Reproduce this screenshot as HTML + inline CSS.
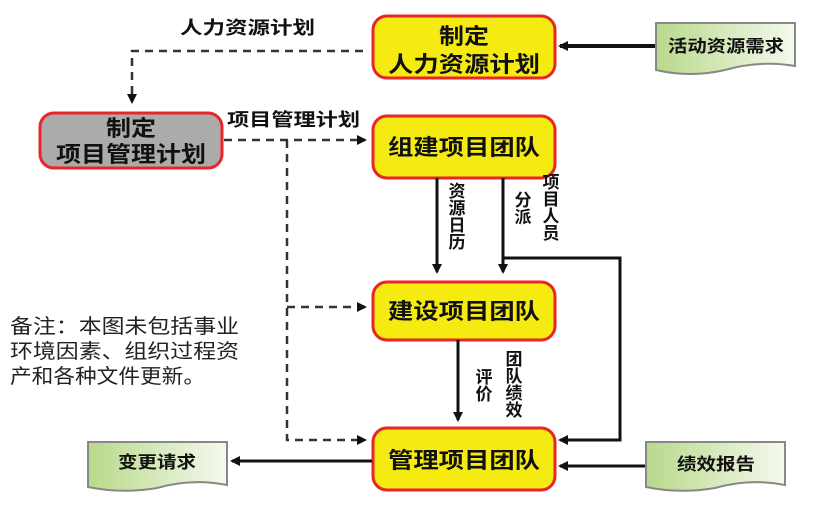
<!DOCTYPE html>
<html><head><meta charset="utf-8"><style>
body{margin:0;background:#fff;width:821px;height:500px;overflow:hidden;font-family:"Liberation Sans","Noto Sans CJK SC",sans-serif}
</style></head><body>
<svg width="821" height="500" viewBox="0 0 821 500" xmlns="http://www.w3.org/2000/svg" font-family="Liberation Sans, Noto Sans CJK SC, sans-serif">
<defs>
<marker id="a" markerWidth="10" markerHeight="10" refX="8" refY="5" orient="auto" markerUnits="userSpaceOnUse"><path d="M0,0 L10,5 L0,10 z" fill="#111"/></marker>
<linearGradient id="g" x1="0" y1="0" x2="1" y2="0"><stop offset="0" stop-color="#b9d98a"/><stop offset="1" stop-color="#f4f9ee"/></linearGradient>
</defs>
<g fill="#f5eb10" stroke="#e8262a" stroke-width="3">
<rect x="373" y="16" width="182" height="62" rx="14"/>
<rect x="373" y="116" width="182" height="62" rx="14"/>
<rect x="373" y="282" width="182" height="58" rx="14"/>
<rect x="373" y="428" width="182" height="62" rx="14"/>
<rect x="40" y="113" width="182" height="55" rx="14" fill="#ababab"/>
</g>
<g fill="url(#g)" stroke="#888" stroke-width="2">
<path d="M656,23 H795 V66 Q760,60 725,70 Q690,78 656,70 z"/>
<path d="M88,442 H227 V485 Q192,478 157,488 Q122,494 88,487 z"/>
<path d="M646,442 H785 V485 Q750,478 715,488 Q680,494 646,487 z"/>
</g>
<g fill="none" stroke="#333" stroke-width="2.5" stroke-dasharray="8,6">
<path d="M363,51 H132 V102" marker-end="url(#a)"/>
<path d="M224,140 H365" marker-end="url(#a)"/>
<path d="M287,140 V440 H365" marker-end="url(#a)"/>
<path d="M287,307 H365" marker-end="url(#a)"/>
</g>
<g fill="none" stroke="#111" stroke-width="3">
<path d="M655,46 H560" stroke-width="4" marker-end="url(#a)"/>
<path d="M437,178 V272" marker-end="url(#a)"/>
<path d="M503,178 V272" marker-end="url(#a)"/>
<path d="M503,258 H620 V440 H560" marker-end="url(#a)"/>
<path d="M458,340 V420" marker-end="url(#a)"/>
<path d="M372,461 H232" marker-end="url(#a)"/>
<path d="M645,466 H560" marker-end="url(#a)"/>
</g>
<g font-size="22" font-weight="bold" fill="#111" text-anchor="middle" lengthAdjust="spacingAndGlyphs">
<text x="464" y="44" textLength="50" lengthAdjust="spacingAndGlyphs">制定</text>
<text x="464" y="72" textLength="152" lengthAdjust="spacingAndGlyphs">人力资源计划</text>
<text x="464" y="155" textLength="152" lengthAdjust="spacingAndGlyphs">组建项目团队</text>
<text x="464" y="319" textLength="152" lengthAdjust="spacingAndGlyphs">建设项目团队</text>
<text x="464" y="468" textLength="152" lengthAdjust="spacingAndGlyphs">管理项目团队</text>
<text x="131" y="136" textLength="50" lengthAdjust="spacingAndGlyphs">制定</text>
<text x="131" y="162" textLength="150" lengthAdjust="spacingAndGlyphs">项目管理计划</text>
</g>
<g font-size="17" font-weight="bold" fill="#111" text-anchor="middle">
<text x="726" y="52" textLength="116" lengthAdjust="spacingAndGlyphs">活动资源需求</text>
<text x="157" y="468" textLength="78" lengthAdjust="spacingAndGlyphs">变更请求</text>
<text x="716" y="470" textLength="78" lengthAdjust="spacingAndGlyphs">绩效报告</text>
</g>
<g font-size="18" font-weight="bold" fill="#111">
<text x="180" y="34" textLength="135" lengthAdjust="spacingAndGlyphs">人力资源计划</text>
<text x="227" y="126" textLength="133" lengthAdjust="spacingAndGlyphs">项目管理计划</text>
</g>
<g font-size="17" font-weight="bold" fill="#111" text-anchor="middle">
<text x="457" y="197">资</text><text x="457" y="214">源</text><text x="457" y="231">日</text><text x="457" y="248">历</text>
<text x="523" y="206">分</text><text x="523" y="223">派</text>
<text x="551" y="188">项</text><text x="551" y="205">目</text><text x="551" y="222">人</text><text x="551" y="239">员</text>
<text x="484" y="383">评</text><text x="484" y="400">价</text>
<text x="514" y="365">团</text><text x="514" y="382">队</text><text x="514" y="399">绩</text><text x="514" y="416">效</text>
</g>
<g font-size="20" fill="#222">
<text x="10" y="333" textLength="229" lengthAdjust="spacingAndGlyphs">备注：本图未包括事业</text>
<text x="10" y="358" textLength="229" lengthAdjust="spacingAndGlyphs">环境因素、组织过程资</text>
<text x="10" y="383" textLength="195" lengthAdjust="spacingAndGlyphs">产和各种文件更新。</text>
</g>
</svg>
</body></html>
